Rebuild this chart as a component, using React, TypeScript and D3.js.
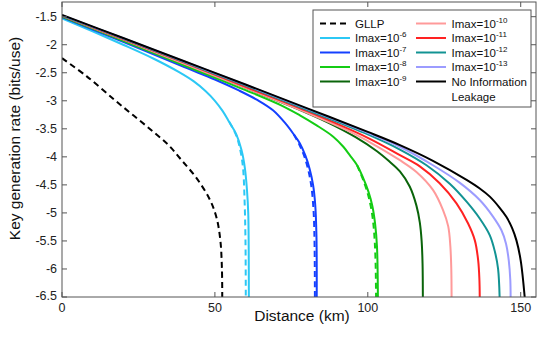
import React from 'react';
import * as d3 from 'd3';

type Pt = [number, number];

// distance (km), log10 key rate (bits/use)
const gllp: Pt[] = [[0, -2.24], [8, -2.56], [17.3, -2.99], [24, -3.29], [29.8, -3.55], [35, -3.8], [39.1, -4.06], [44, -4.38], [48.4, -4.77], [50.6, -5.1], [51.8, -5.5], [52.3, -6.0], [52.4, -6.5]];

const imax6: Pt[] = [[0, -1.53], [10, -1.76], [20, -2.0], [30, -2.25], [38, -2.48], [43, -2.65], [47, -2.83], [50, -3.0], [52.5, -3.18], [54.7, -3.38], [57, -3.6], [58.7, -3.88], [59.8, -4.2], [60.5, -4.6], [60.9, -5.0], [61.05, -5.6], [61.1, -6.5]];
const imax6Dash: Pt[] = [[54.7, -3.38], [57, -3.62], [58.3, -3.88], [59.2, -4.2], [59.7, -4.77], [60.0, -5.5], [60.1, -6.5]];

const imax7: Pt[] = [[0, -1.51], [20, -1.95], [40, -2.4], [50, -2.62], [58, -2.82], [64, -2.99], [69, -3.17], [73, -3.4], [75.8, -3.6], [77.8, -3.76], [79.6, -3.98], [81, -4.22], [82.1, -4.5], [82.8, -4.85], [83.2, -5.4], [83.3, -6.5]];
const imax7Dash: Pt[] = [[75.8, -3.6], [77.6, -3.78], [79.3, -4.0], [80.6, -4.25], [81.6, -4.55], [82.3, -5.0], [82.6, -5.6], [82.7, -6.5]];

const imax8: Pt[] = [[0, -1.5], [20, -1.93], [40, -2.37], [60, -2.81], [72, -3.09], [77.8, -3.26], [83, -3.43], [88.7, -3.64], [92, -3.82], [94.1, -3.97], [96.5, -4.15], [98.5, -4.38], [100.2, -4.62], [101.5, -4.88], [102.4, -5.2], [103.0, -5.6], [103.3, -6.5]];
const imax8Dash: Pt[] = [[96.5, -4.15], [98.4, -4.4], [100.0, -4.66], [101.2, -4.95], [102.0, -5.3], [102.5, -5.8], [102.7, -6.5]];

const imax9: Pt[] = [[0, -1.49], [20, -1.91], [40, -2.34], [60, -2.77], [75, -3.1], [87, -3.39], [96, -3.65], [103, -3.9], [107, -4.08], [110.5, -4.26], [113.7, -4.53], [115.9, -4.87], [117, -5.17], [117.6, -5.5], [117.9, -5.9], [118, -6.5]];

const imax10: Pt[] = [[0, -1.485], [20, -1.91], [40, -2.34], [60, -2.77], [80, -3.21], [93, -3.52], [102, -3.78], [110.5, -4.06], [115.9, -4.27], [121.3, -4.59], [124.6, -4.95], [126.3, -5.24], [127.0, -5.6], [127.3, -6.0], [127.4, -6.5]];

const imax11: Pt[] = [[0, -1.48], [20, -1.9], [40, -2.32], [60, -2.75], [80, -3.18], [100, -3.66], [110.5, -3.97], [117, -4.17], [123.5, -4.47], [129, -4.83], [132.8, -5.19], [135, -5.49], [136.1, -5.85], [136.5, -6.2], [136.6, -6.5]];

const imax12: Pt[] = [[0, -1.48], [20, -1.89], [40, -2.31], [60, -2.73], [80, -3.16], [100, -3.6], [110.5, -3.87], [119.2, -4.15], [126.8, -4.48], [132.3, -4.8], [136.6, -5.1], [139.9, -5.4], [141.6, -5.7], [142.6, -6.0], [143.1, -6.5]];

const imax13: Pt[] = [[0, -1.475], [20, -1.885], [40, -2.3], [60, -2.715], [80, -3.14], [100, -3.57], [110.5, -3.82], [121.3, -4.15], [130, -4.46], [136.6, -4.77], [141, -5.07], [143.7, -5.31], [145.2, -5.55], [146.1, -5.85], [146.6, -6.2], [146.7, -6.5]];

const noLeak: Pt[] = [[0, -1.47], [20, -1.88], [40, -2.295], [60, -2.71], [80, -3.13], [100, -3.555], [110.5, -3.79], [121.3, -4.07], [132.3, -4.41], [136.5, -4.56], [139.9, -4.71], [143, -4.9], [145.3, -5.07], [147.2, -5.27], [148.6, -5.49], [150, -5.85], [151.3, -6.5]];

const xTicks = [0, 50, 100, 150];
const yTicks = [-1.5, -2, -2.5, -3, -3.5, -4, -4.5, -5, -5.5, -6, -6.5];

const series = [
  { key: 'gllp', data: gllp, color: '#000000', dash: true, label: 'GLLP', sup: '' },
  { key: 'i6', data: imax6, color: '#2cc8f5', dash: false, label: 'Imax=10', sup: '-6' },
  { key: 'i7', data: imax7, color: '#1440ff', dash: false, label: 'Imax=10', sup: '-7' },
  { key: 'i8', data: imax8, color: '#14cc14', dash: false, label: 'Imax=10', sup: '-8' },
  { key: 'i9', data: imax9, color: '#0a640a', dash: false, label: 'Imax=10', sup: '-9' },
  { key: 'i10', data: imax10, color: '#ff9a9a', dash: false, label: 'Imax=10', sup: '-10' },
  { key: 'i11', data: imax11, color: '#ff2222', dash: false, label: 'Imax=10', sup: '-11' },
  { key: 'i12', data: imax12, color: '#129393', dash: false, label: 'Imax=10', sup: '-12' },
  { key: 'i13', data: imax13, color: '#9c9cff', dash: false, label: 'Imax=10', sup: '-13' },
  { key: 'nl', data: noLeak, color: '#000000', dash: false, label: 'No Information', sup: '' },
];

const dashed = [
  { key: 'd6', data: imax6Dash, color: '#2cc8f5' },
  { key: 'd7', data: imax7Dash, color: '#1440ff' },
  { key: 'd8', data: imax8Dash, color: '#14cc14' },
];

const W = 540;
const H = 337;
const margin = { top: 2, right: 4, bottom: 40, left: 62 };
const font = '"Liberation Sans", Arial, Helvetica, sans-serif';
const axisColor = '#555';

export default function App() {
  const x = d3.scaleLinear().domain([0, 155]).range([margin.left, W - margin.right]);
  const y = d3.scaleLinear().domain([-6.5, -1.238]).range([H - margin.bottom, margin.top]);
  const line = d3.line<Pt>().x(d => x(d[0])).y(d => y(d[1])).curve(d3.curveCatmullRom.alpha(0.5));

  const x0 = x.range()[0], x1 = x.range()[1];
  const y0 = y.range()[0], y1 = y.range()[1];
  const tl = 5;

  const legX = 313, legY = 10, legW = 218, legH = 97;
  const rowY = [23.5, 38, 52.5, 67, 81.5];

  return (
    <svg width={W} height={H} style={{ position: 'absolute', left: 0, top: 0 }} fontFamily={font}>
      <rect x={0} y={0} width={W} height={H} fill="#fff" />
      <defs>
        <clipPath id="plot">
          <rect x={x0} y={y1} width={x1 - x0} height={y0 - y1} />
        </clipPath>
      </defs>

      <g clipPath="url(#plot)" fill="none" strokeWidth={2}>
        {series.map(s => (
          <path key={s.key} d={line(s.data) || ''} stroke={s.color} strokeDasharray={s.dash ? '6,4' : undefined} />
        ))}
        {dashed.map(s => (
          <path key={s.key} d={line(s.data) || ''} stroke={s.color} strokeDasharray="6,4" />
        ))}
      </g>

      {/* frame */}
      <rect x={x0} y={y1} width={x1 - x0} height={y0 - y1} fill="none" stroke={axisColor} strokeWidth={1} />

      {/* x ticks */}
      {xTicks.map(t => (
        <g key={'x' + t}>
          <line x1={x(t)} x2={x(t)} y1={y0} y2={y0 - tl} stroke={axisColor} />
          <line x1={x(t)} x2={x(t)} y1={y1} y2={y1 + tl} stroke={axisColor} />
          <text x={x(t)} y={y0 + 15} textAnchor="middle" fontSize={12.5} fill="#222">{t}</text>
        </g>
      ))}

      {/* y ticks */}
      {yTicks.map(t => (
        <g key={'y' + t}>
          <line x1={x0} x2={x0 + tl} y1={y(t)} y2={y(t)} stroke={axisColor} />
          <line x1={x1} x2={x1 - tl} y1={y(t)} y2={y(t)} stroke={axisColor} />
          <text x={x0 - 5} y={y(t) + 4.5 - (t === -6.5 ? 2 : 0)} textAnchor="end" fontSize={12.5} fill="#222">{t}</text>
        </g>
      ))}

      <text x={302} y={321} textAnchor="middle" fontSize={15.5} fill="#111">Distance (km)</text>
      <text transform={`translate(20,${138.5}) rotate(-90)`} textAnchor="middle" fontSize={15.5} fill="#111">
        Key generation rate (bits/use)
      </text>

      {/* legend */}
      <rect x={legX} y={legY} width={legW} height={legH} fill="#fff" stroke={axisColor} strokeWidth={1} />
      {series.map((s, i) => {
        const col = i < 5 ? 0 : 1;
        const row = i % 5;
        const lx = col === 0 ? 320 : 416;
        const tx = col === 0 ? 355 : 451.5;
        const ly = rowY[row];
        return (
          <g key={'leg' + s.key}>
            <line x1={lx} x2={lx + 30} y1={ly} y2={ly} stroke={s.color} strokeWidth={2} strokeDasharray={s.dash ? '6,4' : undefined} />
            <text x={tx} y={ly + 4} fontSize={11.5} fill="#111">
              {s.label}
              {s.sup && <tspan fontSize={8} dy={-5}>{s.sup}</tspan>}
            </text>
            {s.key === 'nl' && (
              <text x={tx} y={ly + 19} fontSize={11.5} fill="#111">Leakage</text>
            )}
          </g>
        );
      })}
    </svg>
  );
}
